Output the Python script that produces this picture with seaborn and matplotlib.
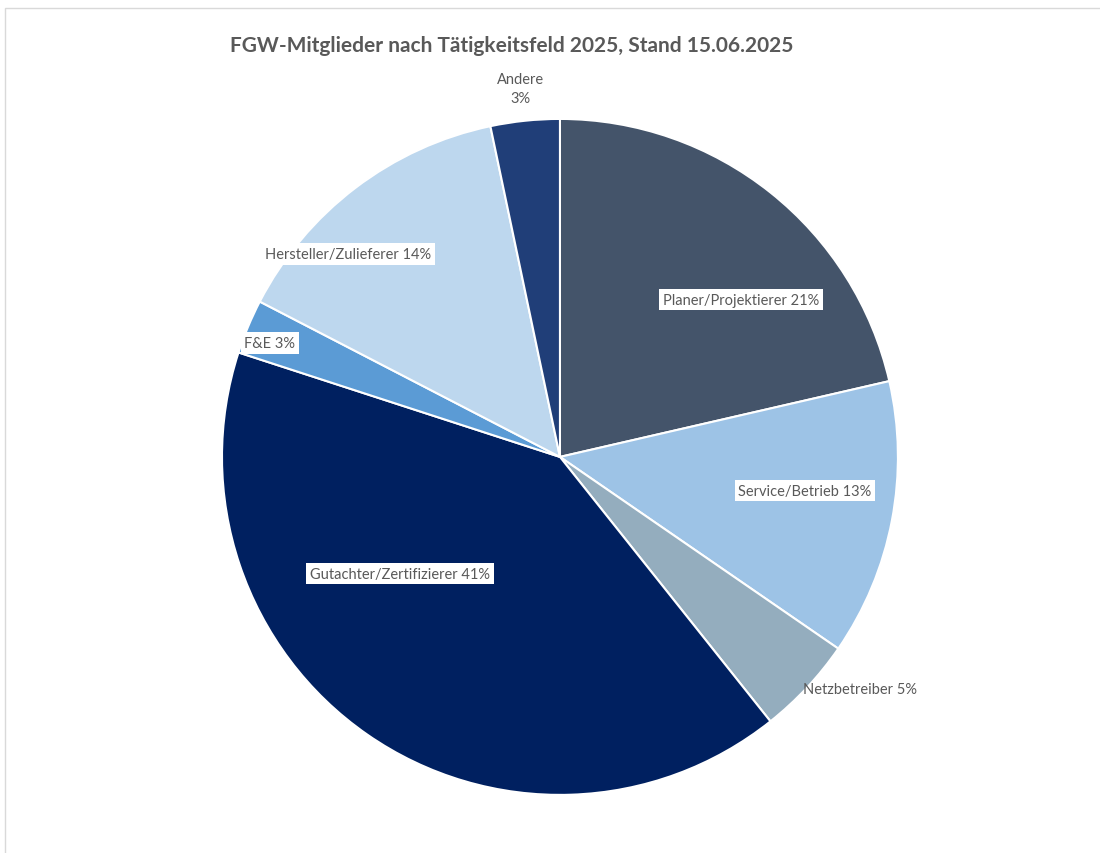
import matplotlib
matplotlib.use("Agg")
import matplotlib.pyplot as plt
import seaborn as sns
from matplotlib.patches import Rectangle

# Anteile je Taetigkeitsfeld (im Uhrzeigersinn ab 12 Uhr)
categories = ["Planer/Projektierer", "Service/Betrieb", "Netzbetreiber",
              "Gutachter/Zertifizierer", "F&E", "Hersteller/Zulieferer", "Andere"]
shares = [21.4, 13.2, 4.7, 40.7, 2.6, 14.1, 3.3]
pct_labels = ["21%", "13%", "5%", "41%", "3%", "14%", "3%"]
colors = ["#44546A", "#9DC3E6", "#94ADBE", "#002060", "#5B9BD5", "#BDD7EE", "#203E78"]

# Label-Positionen relativ zum Kreismittelpunkt (Radius = 1)
label_pos = [(0.535, 0.465), (0.725, -0.10), (0.888, -0.686), (-0.473, -0.346),
             (-0.858, 0.337), (-0.627, 0.60), (-0.118, 1.09)]

sns.set_theme(style="white")
plt.rcParams["font.family"] = ["Lato", "DejaVu Sans"]

fig = plt.figure(figsize=(11, 8.54), dpi=100)
fig.patches.append(Rectangle((5 / 1100, -0.1), 1.2, 1 - 9 / 854 + 0.1,
                             transform=fig.transFigure, fill=False,
                             edgecolor="#D9D9D9", linewidth=1))

ax = fig.add_axes([0.2018, 0.0680, 0.6145, 0.7916])
ax.pie(shares, colors=colors, startangle=90, counterclock=False, radius=1,
       wedgeprops=dict(edgecolor="white", linewidth=1.5))
ax.set_xlim(-1, 1)
ax.set_ylim(-1, 1)
ax.set_aspect("equal")
ax.axis("off")

for cat, pct, (x, y) in zip(categories, pct_labels, label_pos):
    if cat == "Andere":
        ax.text(x, y, f"{cat}\n{pct}", ha="center", va="center", fontsize=10.5,
                color="#595959", linespacing=1.5, clip_on=False)
    elif cat == "Netzbetreiber":
        ax.text(x, y, f"{cat} {pct}", ha="center", va="center", fontsize=10.5,
                color="#595959", clip_on=False)
    else:
        ax.text(x, y, f"{cat} {pct}", ha="center", va="center", fontsize=10.5,
                color="#595959", clip_on=False,
                bbox=dict(boxstyle="square,pad=0.25", facecolor="white", edgecolor="none"))

fig.text(512 / 1100, 1 - 46 / 854, "FGW-Mitglieder nach Tätigkeitsfeld 2025, Stand 15.06.2025",
         ha="center", va="center", fontsize=15, fontweight="bold", color="#595959")

fig.savefig("out.png", dpi=100)
